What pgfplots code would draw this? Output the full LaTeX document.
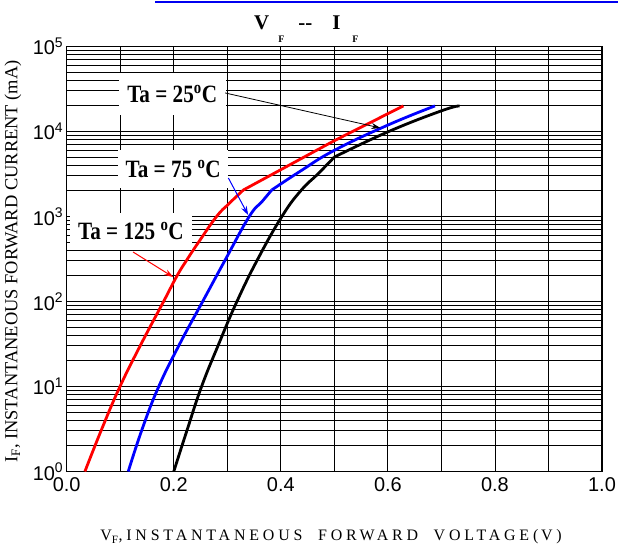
\documentclass[border=0pt]{standalone}
\usepackage{fontspec}
\setmainfont{Liberation Serif}
\newfontfamily\sansf{Liberation Sans}
\newfontfamily\lblfont[FakeStretch=0.85]{Liberation Serif}
\newfontfamily\xlabfont[LetterSpace=24]{Liberation Serif}
\usepackage{pgfplots}
\pgfplotsset{compat=1.18}
\usetikzlibrary{arrows.meta}

\pgfplotstableread{
x y
0.034 1
0.0655 3.16
0.0996 10
0.139 31.6
0.181 100
0.206 200
0.2255 316
0.2465 500
0.28 1000
0.303 1413
0.33 2050
}\redLow
\pgfplotstableread{
x y
0.33 2050
0.5 7800
0.629 20000
}\redHigh
\pgfplotstableread{
x y
0.115 1
0.141 3.16
0.172 10
0.211 31.6
0.254 100
0.297 316
0.341 1000
0.365 1500
0.383 2050
}\blueLow
\pgfplotstableread{
x y
0.383 2050
0.436 3400
0.5 6000
0.6 11900
0.688 20000
}\blueHigh
\pgfplotstableread{
x y
0.2 1
0.2255 3.16
0.252 10
0.284 31.6
0.318 100
0.357 316
0.402 1000
0.437 2000
0.47 3200
0.5 5000
}\blackLow
\pgfplotstableread{
x y
0.5 5000
0.6 9900
0.7 17500
0.734 20000
}\blackHigh

\begin{document}
\begin{tikzpicture}[x=1bp,y=1bp]
\path[use as bounding box] (0,0) rectangle (618,545);
\draw[color={rgb,255:red,0;green,0;blue,240}, line width=2bp] (155,543) -- (618,543);
\node[anchor=base west, inner sep=0] at (254,515) {\bfseries\fontsize{21}{21}\selectfont V\hspace{9bp}\raisebox{-13bp}{\fontsize{10}{10}\selectfont F}\hspace{14bp}-{}-\hspace{20bp}I\hspace{12bp}\raisebox{-13bp}{\fontsize{10}{10}\selectfont F}};
\node[rotate=90, inner sep=0] at (13,283.5) {\fontsize{18.5}{18.5}\selectfont I\textsubscript{F}, INSTANTANEOUS FORWARD CURRENT (mA)};
\node[inner sep=0] at (331,8) {\xlabfont\fontsize{16}{16}\selectfont V\textsubscript{F},INSTANTANEOUS\ \ FORWARD\ \ VOLTAGE(\,V)};
\begin{axis}[
  at={(66.7bp,73.5bp)}, anchor=south west,
  width=535.3bp, height=425bp, scale only axis,
  xmin=0, xmax=1, ymin=1, ymax=100000, ymode=log,
  xtick={0,0.2,0.4,0.6,0.8,1},
  xticklabels={0.0,0.2,0.4,0.6,0.8,1.0},
  minor xtick={0.1,0.3,0.5,0.7,0.9},
  ytick={1,10,100,1000,10000,100000},
  yticklabels={10\textsuperscript{0},10\textsuperscript{1},10\textsuperscript{2},10\textsuperscript{3},10\textsuperscript{4},10\textsuperscript{5}},
  minor ytick={2,3,4,5,6,7,8,9,20,30,40,50,60,70,80,90,200,300,400,500,600,700,800,900,2000,3000,4000,5000,6000,7000,8000,9000,20000,30000,40000,50000,60000,70000,80000,90000},
  grid=both,
  major grid style={black, line width=0.9bp},
  minor grid style={black, line width=0.9bp},
  major tick length=0pt, minor tick length=0pt,
  axis line style={black, line width=1.2bp},
  tick label style={font=\sansf\fontsize{20}{20}\selectfont},
  xticklabel style={yshift=-3bp},
  clip=false,
]
\addplot[color={rgb,255:red,255;green,0;blue,0}, line width=2.8bp, smooth, tension=0.75, line join=round] table[x=x,y=y] {\redLow};
\addplot[color={rgb,255:red,255;green,0;blue,0}, line width=2.8bp, line join=round] table[x=x,y=y] {\redHigh};
\addplot[color={rgb,255:red,0;green,0;blue,255}, line width=2.8bp, smooth, tension=0.75, line join=round] table[x=x,y=y] {\blueLow};
\addplot[color={rgb,255:red,0;green,0;blue,255}, line width=2.8bp, smooth, tension=0.75, line join=round] table[x=x,y=y] {\blueHigh};
\addplot[black, line width=2.8bp, smooth, tension=0.75, line join=round] table[x=x,y=y] {\blackLow};
\addplot[black, line width=2.8bp, smooth, tension=0.75, line join=round] table[x=x,y=y] {\blackHigh};
\node[fill=white, minimum width=107bp, minimum height=42bp, inner sep=0] at (axis cs:0.197,27700) {\lblfont\bfseries\fontsize{25}{25}\selectfont Ta = 25\textsuperscript{o}C};
\node[fill=white, minimum width=110bp, minimum height=38bp, inner sep=0] at (axis cs:0.199,3620) {\lblfont\bfseries\fontsize{25}{25}\selectfont Ta = 75 \textsuperscript{o}C};
\node[fill=white, minimum width=122bp, minimum height=37bp, inner sep=0] at (axis cs:0.12,675) {\lblfont\bfseries\fontsize{25}{25}\selectfont Ta = 125 \textsuperscript{o}C};
\draw[black, line width=0.8bp, -{Stealth[length=9bp,width=6bp]}] (axis cs:0.296,28400) -- (axis cs:0.586,11000);
\draw[color={rgb,255:red,0;green,0;blue,255}, line width=1bp, -{Stealth[length=9bp,width=6bp]}] (axis cs:0.302,2840) -- (axis cs:0.339,1040);
\draw[color={rgb,255:red,255;green,0;blue,0}, line width=1bp, -{Stealth[length=9bp,width=6bp]}] (axis cs:0.124,382) -- (axis cs:0.199,194);
\end{axis}
\end{tikzpicture}
\end{document}
